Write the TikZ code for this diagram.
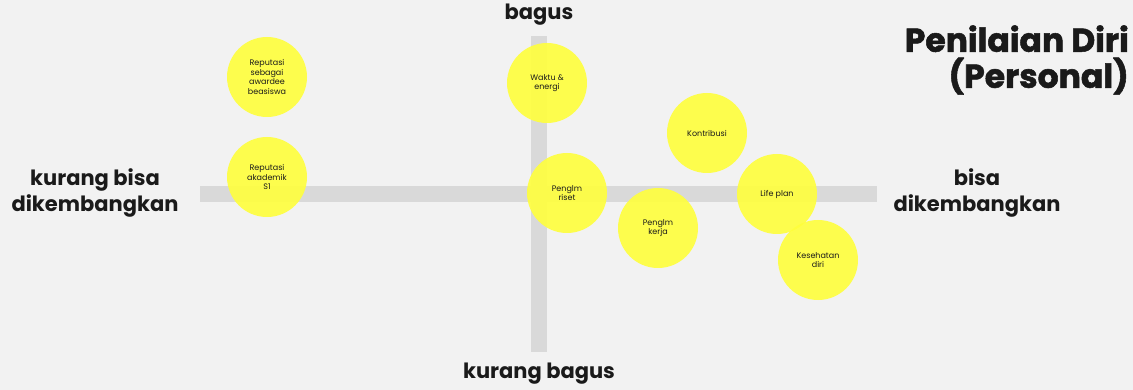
\documentclass[tikz,border=0pt]{standalone}
\usepackage{fontspec}
\setmainfont{Poppins}
\newfontfamily\titlefont{Poppins}[BoldFeatures={FakeBold=1.6}]
\definecolor{bg}{HTML}{F2F2F2}
\definecolor{axisgray}{HTML}{D9D9D9}
\definecolor{stickyyellow}{HTML}{FFFF3C}
\definecolor{inkdark}{HTML}{1A1A1A}
\begin{document}
\begin{tikzpicture}[x=1pt,y=-1pt,
      note/.style={circle,fill=stickyyellow,fill opacity=0.9,text opacity=1,
        minimum size=80pt,inner sep=0pt,align=center,text=inkdark,
        font=\fontsize{8}{9.5}\selectfont},
      axislabel/.style={font=\fontsize{21}{26}\selectfont\bfseries,
        align=center,text=inkdark}]
      \path[fill=bg] (0,0) rectangle (1133,390);
      % axes
      \path[fill=axisgray] (200,186) rectangle (877,202);
      \path[fill=axisgray] (531,36) rectangle (547,352);
      \path (539,15) node[axislabel] (top) {bagus};
      \path (539,374) node[axislabel] (bottom) {kurang bagus};
      \path (95,193) node[axislabel] (left) {kurang bisa\\dikembangkan};
      \path (977,193) node[axislabel] (right) {bisa\\dikembangkan};
      \path (1129,60) node[anchor=east,align=right,text=inkdark,inner sep=0pt,
        font=\titlefont\fontsize{33}{36}\selectfont\bfseries] (title) {Penilaian Diri\\(Personal)};
      % notes
      \path (267,77) node[note] (awardee) {Reputasi\\sebagai\\awardee\\beasiswa};
      \path (267,177) node[note] (akademik) {Reputasi\\akademik\\S1};
      \path (547,83) node[note] (waktu) {Waktu \&\\energi};
      \path (567,193) node[note] (riset) {Penglm\\riset};
      \path (707,133) node[note] (kontribusi) {Kontribusi};
      \path (658,228) node[note] (kerja) {Penglm\\kerja};
      \path (777,194) node[note] (lifeplan) {Life plan};
      \path (818,260) node[note] (kesehatan) {Kesehatan\\diri};
     \end{tikzpicture}
\end{document}
